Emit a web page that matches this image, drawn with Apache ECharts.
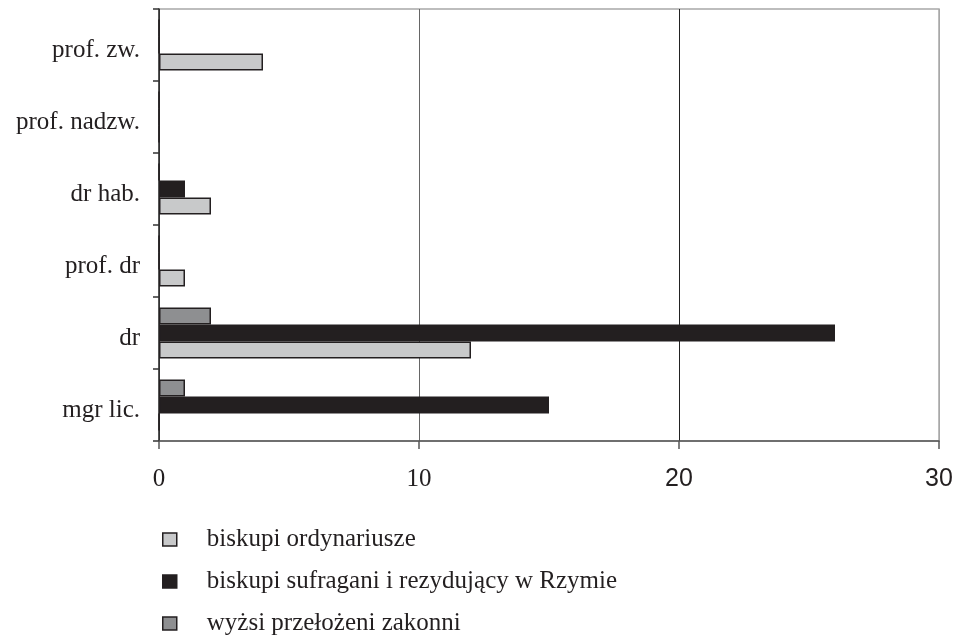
<!doctype html>
<html lang="pl">
<head>
	<meta charset="UTF-8">
	<title>Stopnie naukowe</title>
	<script src="https://cdn.jsdelivr.net/npm/echarts@6/dist/echarts.min.js"></script>
	<style>
		html, body { margin: 0; padding: 0; background: #fff; }
		#main { width: 959px; height: 639px; }
	</style>
</head>
<body>
<div id="main"></div>
<script type="text/javascript">
	// dane
	var categories = ['mgr lic.', 'dr', 'prof. dr', 'dr hab.', 'prof. nadzw.', 'prof. zw.'];
	var seriesNames = ['biskupi ordynariusze', 'biskupi sufragani i rezydujący w Rzymie', 'wyżsi przełożeni zakonni'];
	var ordynariusze = [0, 12, 1, 2, 0, 4];
	var sufragani = [15, 26, 0, 1, 0, 0];
	var przelozeni = [1, 2, 0, 0, 0, 0];
	var xTicks = [0, 10, 20, 30];

	var serif = '"Liberation Serif", "DejaVu Serif", serif';
	var sans = '"Liberation Sans", Arial, sans-serif';
	var ink = '#231f20';

	var myChart = echarts.init(document.getElementById('main'));

	function barSeries(name, data, color) {
		return {
			name: name,
			type: 'bar',
			data: data,
			barWidth: 17,
			barGap: '0%',
			itemStyle: { color: color, borderColor: ink, borderWidth: 1.5 }
		};
	}

	var option = {
		backgroundColor: '#fff',
		animation: false,
		grid: {
			left: 159, right: 20, top: 9, bottom: 198,
			show: true, borderColor: '#a8a8a8', borderWidth: 1.5
		},
		legend: {
			orient: 'vertical',
			left: 162, top: 527,
			padding: 0,
			itemWidth: 14, itemHeight: 13,
			itemGap: 17,
			icon: 'rect',
			data: seriesNames,
			selectedMode: false,
			itemStyle: { borderColor: ink, borderWidth: 1.5 },
			textStyle: { fontFamily: serif, fontSize: 25, lineHeight: 25, color: ink, padding: [0, 0, 0, 25] }
		},
		xAxis: {
			type: 'value',
			min: xTicks[0], max: xTicks[xTicks.length - 1], interval: 10,
			axisLine: { show: true, lineStyle: { color: '#555', width: 1.5 } },
			axisTick: { show: true, length: 8, lineStyle: { color: '#555', width: 1.5 } },
			splitLine: { show: true, lineStyle: { color: ['#333', '#666', '#222', '#a8a8a8'], width: 1 } },
			axisLabel: {
				margin: 26,
				formatter: function (v) { return v < 20 ? '{s|' + v + '}' : '{a|' + v + '}'; },
				rich: {
					s: { fontFamily: serif, fontSize: 25, color: ink },
					a: { fontFamily: sans, fontSize: 25, color: ink }
				}
			}
		},
		yAxis: {
			type: 'category',
			data: categories,
			axisLine: { show: true, lineStyle: { color: '#333', width: 1.5 } },
			axisTick: { show: true, length: 6, lineStyle: { color: '#333', width: 1.5 } },
			axisLabel: {
				margin: 19,
				formatter: function (v) { return '{c|' + v + '}'; },
				rich: {
					c: { fontFamily: serif, fontSize: 25, lineHeight: 25, color: ink, padding: [10, 0, 0, 0] }
				}
			}
		},
		// pierwsza seria rysowana jest na górze grupy
		series: [
			barSeries(seriesNames[2], przelozeni, '#8e8f91'),
			barSeries(seriesNames[1], sufragani, ink),
			barSeries(seriesNames[0], ordynariusze, '#c8c9ca')
		]
	};

	myChart.setOption(option);
</script>
</body>
</html>
